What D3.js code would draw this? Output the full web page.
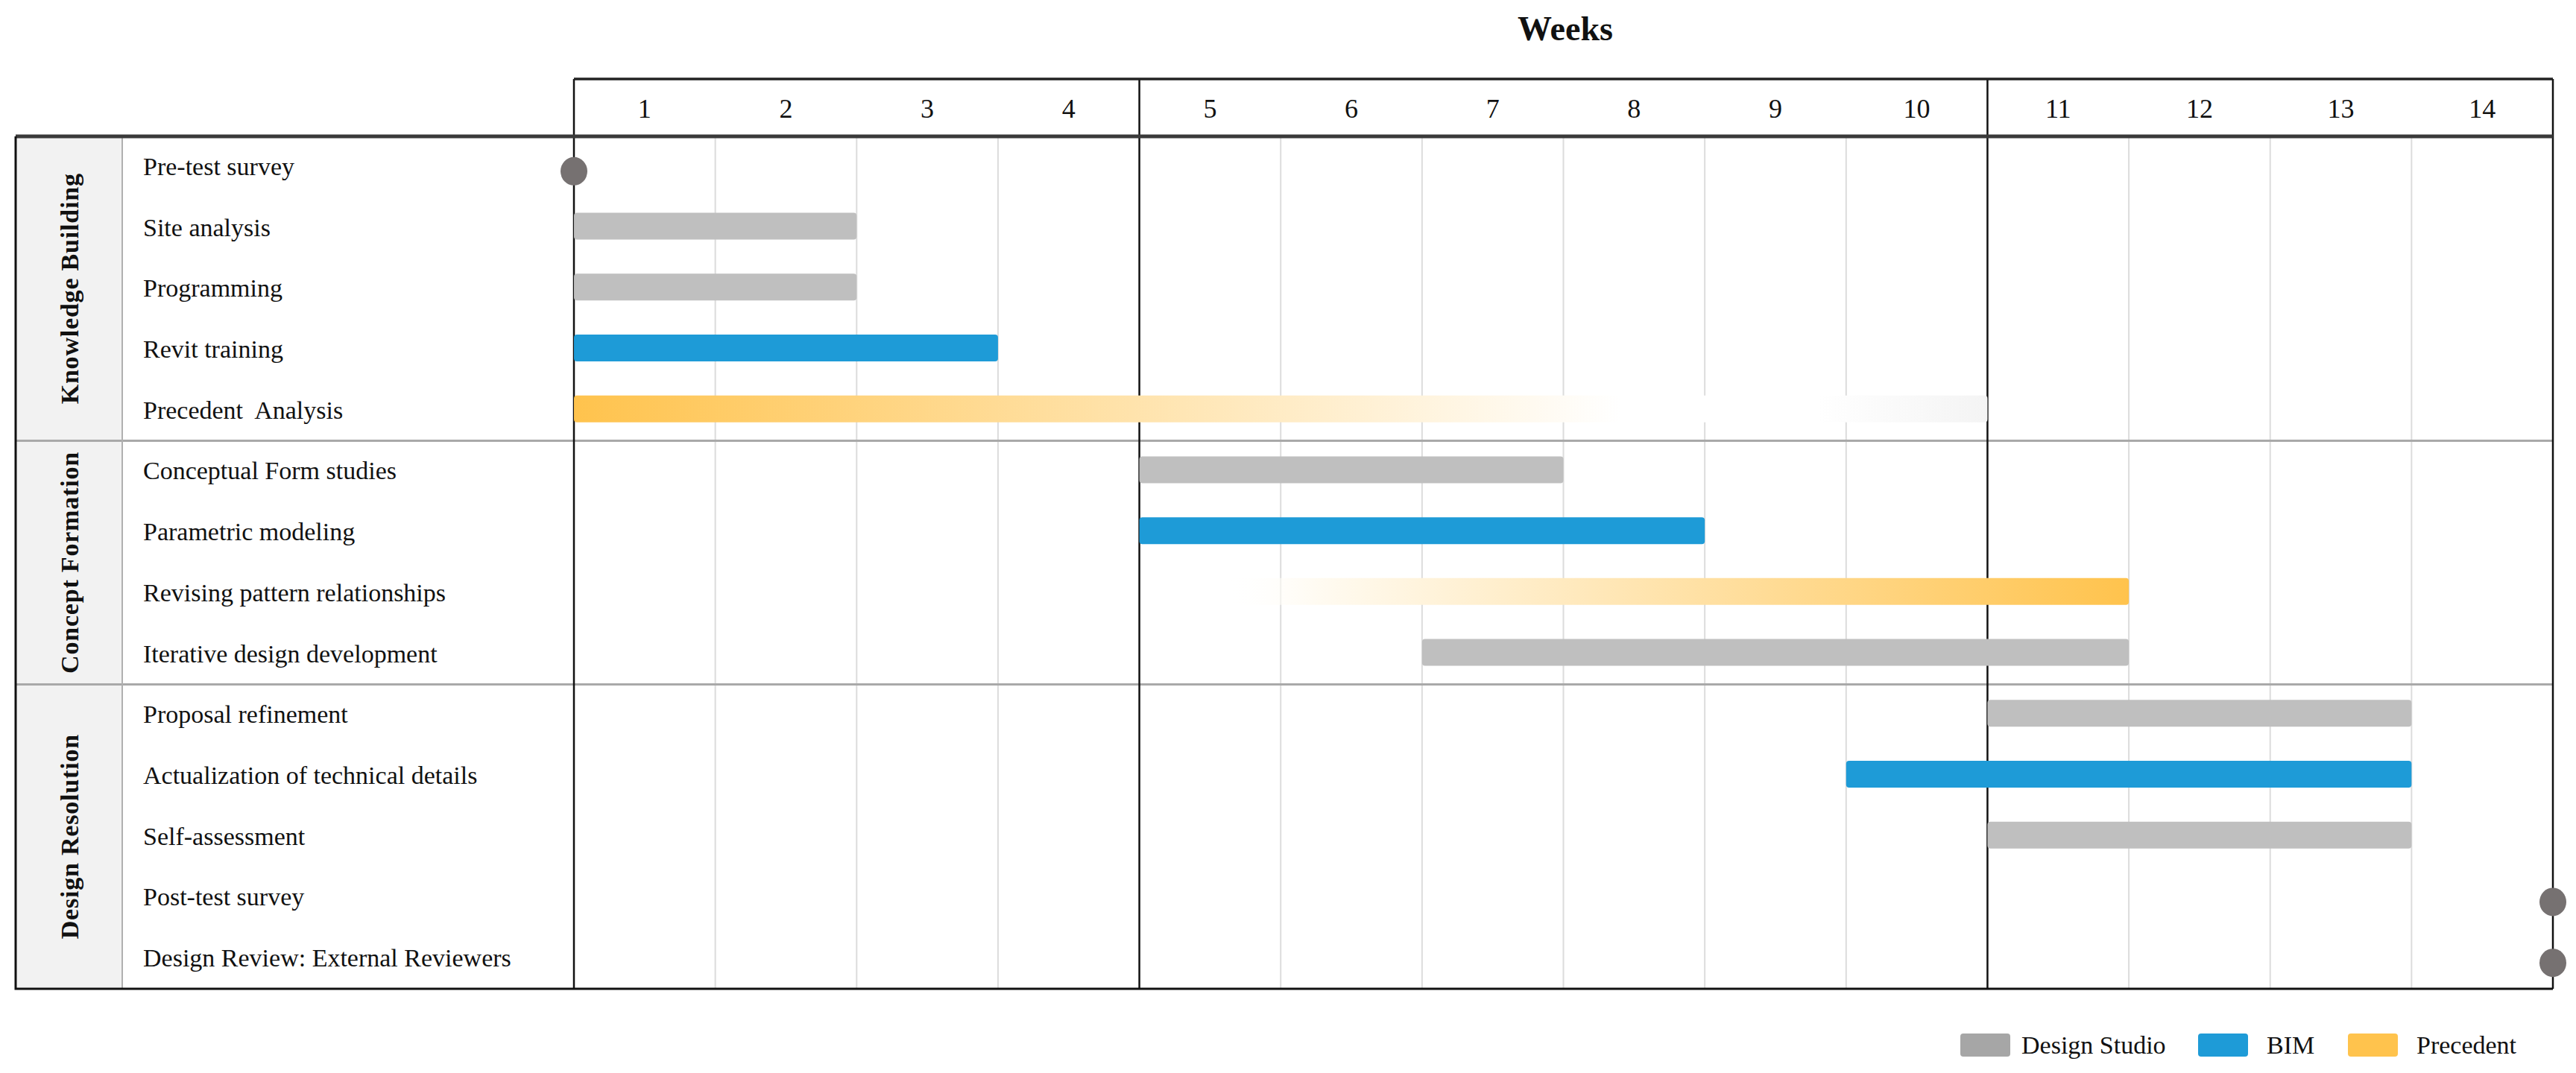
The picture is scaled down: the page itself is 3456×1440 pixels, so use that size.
<!DOCTYPE html>
<html>
<head>
<meta charset="utf-8">
<script src="https://cdn.jsdelivr.net/npm/d3@7/dist/d3.min.js"></script>
<style>
  html, body { margin: 0; padding: 0; background: #fff; }
  svg text { font-family: "Liberation Serif", "DejaVu Serif", serif; fill: #111; }
</style>
</head>
<body>
<div id="chart"></div>
<script>
// chart data
const weeks = d3.range(1, 15);
const milestoneWeeks = [0, 4, 10, 14];

const phases = ["Knowledge Building", "Concept Formation", "Design Resolution"];
const phaseSizes = [5, 4, 5];

const tasks = [
    "Pre-test survey", "Site analysis", "Programming", "Revit training", "Precedent  Analysis",
    "Conceptual Form studies", "Parametric modeling", "Revising pattern relationships", "Iterative design development",
    "Proposal refinement", "Actualization of technical details", "Self-assessment", "Post-test survey",
    "Design Review: External Reviewers"
];
const taskStart = [0, 0, 0, 0, 0, 4, 4, 4.6, 6, 10, 9, 10, 14, 14];
const taskEnd   = [0, 2, 2, 3, 10, 7, 8, 11, 11, 13, 13, 13, 14, 14];
const taskType  = ["survey", "Design Studio", "Design Studio", "BIM", "Precedent",
    "Design Studio", "BIM", "Precedent", "Design Studio",
    "Design Studio", "BIM", "Design Studio", "survey", "survey"];
const taskFade  = ["", "", "", "", "out", "", "", "in", "", "", "", "", "", ""];

const legendKeys = ["Design Studio", "BIM", "Precedent"];
const legendColors = ["#a6a6a6", "#1e9bd7", "#ffc34d"];
const barColors = {"Design Studio": "#bfbfbf", "BIM": "#1e9bd7", "Precedent": "#ffc34d"};

const W = 3456, H = 1440;
const LEFT = 21, DIVIDER = 164, LABEL_X = 192;
const GRID_TOP = 106, HEAD_BOTTOM = 183, BOTTOM = 1327;
const BAR_H = 36;

const svg = d3.select("#chart").append("svg")
    .attr("width", W)
    .attr("height", H);

const defs = svg.append("defs");

const x = d3.scaleLinear().domain([0, 14]).range([770, 3425]);
const y = d3.scaleBand().domain(tasks).range([HEAD_BOTTOM, BOTTOM]);

// phase column background
svg.append("rect")
    .attr("x", LEFT).attr("y", HEAD_BOTTOM)
    .attr("width", DIVIDER - LEFT).attr("height", BOTTOM - HEAD_BOTTOM)
    .attr("fill", "#f2f2f2");

// thin weekly grid lines
svg.append("g").selectAll("line")
    .data(d3.range(1, 14).filter(w => !milestoneWeeks.includes(w)))
    .join("line")
    .attr("x1", d => x(d)).attr("x2", d => x(d))
    .attr("y1", HEAD_BOTTOM).attr("y2", BOTTOM)
    .attr("stroke", "#dcdcdc").attr("stroke-width", 2);

// phase separators
let rowAcc = 0;
const sepRows = phaseSizes.slice(0, -1).map(n => (rowAcc += n));
svg.append("g").selectAll("line")
    .data(sepRows)
    .join("line")
    .attr("x1", LEFT).attr("x2", x(14))
    .attr("y1", d => y(tasks[d])).attr("y2", d => y(tasks[d]))
    .attr("stroke", "#a9a9a9").attr("stroke-width", 3);

// phase column divider
svg.append("line")
    .attr("x1", DIVIDER).attr("x2", DIVIDER)
    .attr("y1", HEAD_BOTTOM).attr("y2", BOTTOM)
    .attr("stroke", "#b0b0b0").attr("stroke-width", 2);

// bold lines at 0, 4, 10, 14
svg.append("g").selectAll("line")
    .data(milestoneWeeks)
    .join("line")
    .attr("x1", d => x(d)).attr("x2", d => x(d))
    .attr("y1", GRID_TOP).attr("y2", BOTTOM)
    .attr("stroke", "#111").attr("stroke-width", 2.5);

// header top border
svg.append("line")
    .attr("x1", x(0)).attr("x2", x(14))
    .attr("y1", GRID_TOP).attr("y2", GRID_TOP)
    .attr("stroke", "#222").attr("stroke-width", 3.5);

// header bottom border
svg.append("line")
    .attr("x1", LEFT).attr("x2", x(14))
    .attr("y1", HEAD_BOTTOM).attr("y2", HEAD_BOTTOM)
    .attr("stroke", "#3a3a3a").attr("stroke-width", 5);

// outer left and bottom border
svg.append("path")
    .attr("d", `M${LEFT},${HEAD_BOTTOM}V${BOTTOM}H${x(14)}`)
    .attr("fill", "none")
    .attr("stroke", "#111").attr("stroke-width", 3);

// week numbers
svg.append("g").selectAll("text")
    .data(weeks)
    .join("text")
    .attr("x", d => x(d - 0.5))
    .attr("y", 158)
    .attr("text-anchor", "middle")
    .attr("font-size", 36)
    .text(d => d);

svg.append("text")
    .attr("x", 2100).attr("y", 54)
    .attr("text-anchor", "middle")
    .attr("font-size", 46)
    .attr("font-weight", "bold")
    .text("Weeks");

// phase labels
let start = 0;
phases.forEach((p, i) => {
    const y0 = y(tasks[start]);
    const y1 = y(tasks[start + phaseSizes[i] - 1]) + y.bandwidth();
    const cx = (LEFT + DIVIDER) / 2;
    const cy = (y0 + y1) / 2;
    svg.append("text")
        .attr("transform", `translate(${cx + 12},${cy}) rotate(-90)`)
        .attr("text-anchor", "middle")
        .attr("font-size", 34)
        .attr("font-weight", "bold")
        .attr("letter-spacing", 0.8)
        .text(p);
    start += phaseSizes[i];
});

// task labels
svg.append("g").selectAll("text")
    .data(tasks)
    .join("text")
    .attr("x", LABEL_X)
    .attr("y", d => y(d) + y.bandwidth() / 2 + 11)
    .attr("font-size", 34)
    .style("white-space", "pre")
    .text(d => d);

// gradients for the precedent bars
const fadeStops = {
    out: [[0, "#ffc34d", 1], [0.74, "#ffffff", 1], [0.88, "#ffffff", 1], [1, "#f4f4f4", 1]],
    "in": [[0, "#ffffff", 0], [0.1, "#fffbf2", 1], [1, "#ffc34d", 1]]
};
Object.keys(fadeStops).forEach(k => {
    const g = defs.append("linearGradient")
        .attr("id", "fade-" + k)
        .attr("x1", "0%").attr("x2", "100%")
        .attr("y1", "0%").attr("y2", "0%");
    g.selectAll("stop")
        .data(fadeStops[k])
        .join("stop")
        .attr("offset", d => d[0])
        .attr("stop-color", d => d[1])
        .attr("stop-opacity", d => d[2]);
});

const rows = tasks.map((t, i) => ({
    task: t, start: taskStart[i], end: taskEnd[i], type: taskType[i], fade: taskFade[i]
}));

// bars
svg.append("g").selectAll("rect")
    .data(rows.filter(d => d.type !== "survey"))
    .join("rect")
    .attr("x", d => x(d.start))
    .attr("y", d => y(d.task) + y.bandwidth() / 2 - BAR_H / 2 - 2)
    .attr("width", d => x(d.end) - x(d.start))
    .attr("height", BAR_H)
    .attr("rx", 4)
    .attr("fill", d => d.fade ? "url(#fade-" + d.fade + ")" : barColors[d.type]);

// survey milestones
svg.append("g").selectAll("ellipse")
    .data(rows.filter(d => d.type === "survey"))
    .join("ellipse")
    .attr("cx", d => x(d.start))
    .attr("cy", d => y(d.task) + y.bandwidth() / 2 + 6)
    .attr("rx", 18)
    .attr("ry", 19)
    .attr("fill", "#767171");

// legend
const legendX = [2630, 2949, 3150];
const legend = svg.append("g").selectAll("g")
    .data(legendKeys)
    .join("g")
    .attr("transform", (d, i) => `translate(${legendX[i]},1387)`);

legend.append("rect")
    .attr("width", 67).attr("height", 31).attr("rx", 4)
    .attr("fill", (d, i) => legendColors[i]);

legend.append("text")
    .attr("x", (d, i) => i === 0 ? 82 : 92)
    .attr("y", 27)
    .attr("font-size", 34)
    .text(d => d);
</script>
</body>
</html>
